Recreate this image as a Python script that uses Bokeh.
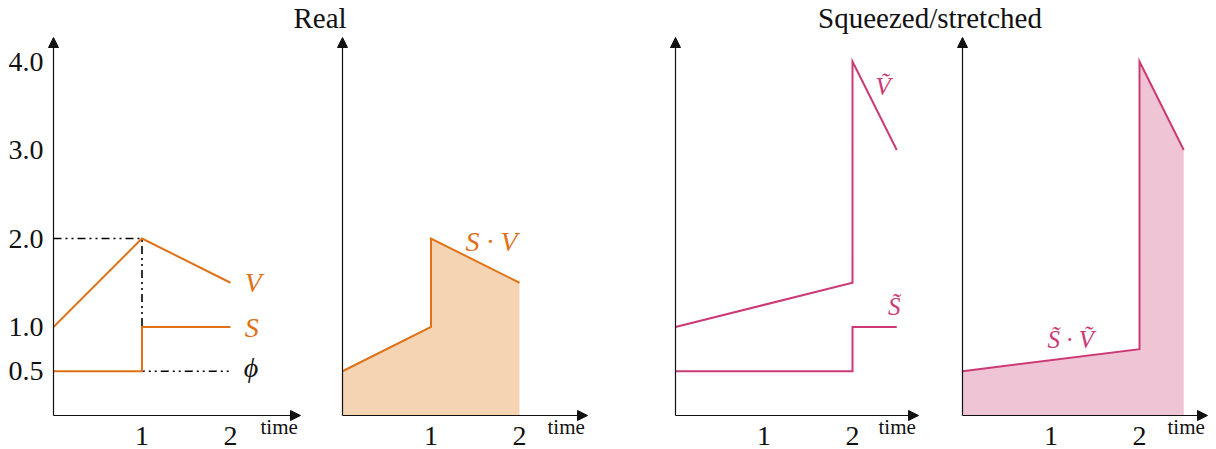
from bokeh.plotting import figure
from bokeh.layouts import column, row
from bokeh.models import Range1d, FixedTicker, Arrow, NormalHead, Label
from bokeh.embed import file_html
from bokeh.resources import INLINE

# ---------------- data ----------------
real_V_t = [0, 1, 2]
real_V = [1.0, 2.0, 1.5]
real_S_t = [0, 1, 1, 2]
real_S = [0.5, 0.5, 1.0, 1.0]
phi_t = [0, 1, 1, 2]
phi_v = [2.0, 2.0, 0.5, 0.5]
real_SV_t = [0, 1, 1, 2]
real_SV = [0.5, 1.0, 2.0, 1.5]

sq_V_t = [0, 2, 2, 2.5]
sq_V = [1.0, 1.5, 4.0, 3.0]
sq_S_t = [0, 2, 2, 2.5]
sq_S = [0.5, 0.5, 1.0, 1.0]
sq_SV_t = [0, 2, 2, 2.5]
sq_SV = [0.5, 0.75, 4.0, 3.0]

y_ticks = [0.5, 1.0, 2.0, 3.0, 4.0]
y_tick_labels = ["0.5", "1.0", "2.0", "3.0", "4.0"]
x_ticks = [1, 2]
x_tick_labels = ["1", "2"]
titles = ["Real", "Squeezed/stretched"]
x_axis_label = "time"

# ---------------- style / layout ----------------
FONT = "Liberation Serif"
ORANGE = "#E07116"
ORANGE_FILL = "#F5D4B4"
PINK = "#CC3A76"
PINK_FILL = "#EFC5D6"
AXIS = "#111111"

SX = 88.5          # px per time unit
SY = 88.5          # px per value unit
ORIGIN_Y = 415     # page y of value 0
TOP = 34           # page y of panel top
BOTTOM = 449       # page y of panel bottom
TIP_Y = 37         # page y of y-arrow tip
PAGE_W = 1216

# (canvas_left, canvas_right, axis_x, arrow_tip_x)
PANELS = [
    (0, 322, 53, 300),
    (322, 640, 342, 587),
    (640, 935, 675, 918),
    (935, PAGE_W, 962, 1207),
]


def make_panel(geom, show_y_labels):
    cl, cr, ax, tip = geom
    p = figure(
        width=cr - cl, height=BOTTOM - TOP,
        x_range=Range1d((cl - ax) / SX, (cr - ax) / SX),
        y_range=Range1d(-(BOTTOM - ORIGIN_Y) / SY, (ORIGIN_Y - TOP) / SY),
        output_backend="svg", toolbar_location=None,
        min_border_left=0, min_border_right=0, min_border_top=0, min_border_bottom=0,
    )
    p.outline_line_color = None
    p.grid.visible = False
    p.background_fill_color = "white"
    p.border_fill_color = "white"

    xa = p.xaxis[0]
    xa.fixed_location = 0
    xa.ticker = FixedTicker(ticks=x_ticks)
    xa.major_label_overrides = {t: l for t, l in zip(x_ticks, x_tick_labels)}
    xa.axis_line_color = None
    xa.major_tick_line_color = None
    xa.minor_tick_line_color = None
    xa.major_label_text_font = FONT
    xa.major_label_text_font_size = "28px"
    xa.major_label_text_color = "#111111"
    xa.major_label_standoff = 5

    ya = p.yaxis[0]
    if show_y_labels:
        ya.fixed_location = 0
        ya.ticker = FixedTicker(ticks=y_ticks)
        ya.major_label_overrides = {t: l for t, l in zip(y_ticks, y_tick_labels)}
        ya.axis_line_color = None
        ya.major_tick_line_color = None
        ya.minor_tick_line_color = None
        ya.major_label_text_font = FONT
        ya.major_label_text_font_size = "28px"
        ya.major_label_text_color = "#111111"
        ya.major_label_standoff = 4
    else:
        ya.visible = False

    tip_x = (tip - ax) / SX
    tip_y = (ORIGIN_Y - TIP_Y) / SY
    p.add_layout(Arrow(x_start=0, y_start=0, x_end=tip_x, y_end=0,
                       line_color=AXIS, line_width=1.2,
                       end=NormalHead(size=10, fill_color=AXIS, line_color=AXIS)))
    p.add_layout(Arrow(x_start=0, y_start=0, x_end=0, y_end=tip_y,
                       line_color=AXIS, line_width=1.2,
                       end=NormalHead(size=10, fill_color=AXIS, line_color=AXIS)))
    p.add_layout(Label(x=tip_x - 0.03, y=0.01, text=x_axis_label,
                       text_align="right", text_baseline="top",
                       text_font=FONT, text_font_size="21px", text_color="#111111"))
    return p


def add_label(p, x, y, text, color, size="28px"):
    p.add_layout(Label(x=x, y=y, text=text, text_align="left",
                       text_baseline="alphabetic", text_font=FONT,
                       text_font_style="italic", text_font_size=size,
                       text_color=color))


# Panel 1: real V, S, phi
p1 = make_panel(PANELS[0], True)
p1.line(phi_t, phi_v, line_color="black", line_width=1.6, line_dash="8 4 2 4 2 4")
p1.line(real_V_t, real_V, line_color=ORANGE, line_width=2, line_join="miter")
p1.line(real_S_t, real_S, line_color=ORANGE, line_width=2, line_join="miter")
add_label(p1, 2.16, 1.50, "V", ORANGE)
add_label(p1, 2.16, 0.99, "S", ORANGE)
add_label(p1, 2.15, 0.54, "\u03d5", "#111111")

# Panel 2: real S*V
p2 = make_panel(PANELS[1], False)
p2.varea(x=real_SV_t, y1=0, y2=real_SV, fill_color=ORANGE_FILL)
p2.line(real_SV_t, real_SV, line_color=ORANGE, line_width=2, line_join="miter")
add_label(p2, 1.39, 1.97, "S \u00b7 V", ORANGE)

# Panel 3: squeezed V, S
p3 = make_panel(PANELS[2], False)
p3.line(sq_V_t, sq_V, line_color=PINK, line_width=2, line_join="miter")
p3.line(sq_S_t, sq_S, line_color=PINK, line_width=2, line_join="miter")
add_label(p3, 2.26, 3.72, "\u1e7c", PINK, "25px")
add_label(p3, 2.40, 1.23, "S\u0303", PINK, "25px")

# Panel 4: squeezed S*V
p4 = make_panel(PANELS[3], False)
p4.varea(x=sq_SV_t, y1=0, y2=sq_SV, fill_color=PINK_FILL)
p4.line(sq_SV_t, sq_SV, line_color=PINK, line_width=2, line_join="miter")
add_label(p4, 0.96, 0.86, "S\u0303 \u00b7 \u1e7c", PINK, "25px")

# Title strip
TITLE_X = [319.5, 929.5]   # page x of title centres
TITLE_Y = 17               # label anchor, px above strip bottom
tfig = figure(width=PAGE_W, height=TOP, x_range=Range1d(0, PAGE_W), y_range=Range1d(0, TOP),
              output_backend="svg", toolbar_location=None,
              min_border_left=0, min_border_right=0, min_border_top=0, min_border_bottom=0)
tfig.axis.visible = False
tfig.grid.visible = False
tfig.outline_line_color = None
for tx, tt in zip(TITLE_X, titles):
    tfig.add_layout(Label(x=tx, y=TITLE_Y, text=tt, text_align="center",
                          text_baseline="alphabetic",
                          text_font=FONT, text_font_size="29px", text_color="#111111"))

layout = column(tfig, row(p1, p2, p3, p4, spacing=0), spacing=0)
open("out.html", "w").write(file_html(layout, INLINE))
